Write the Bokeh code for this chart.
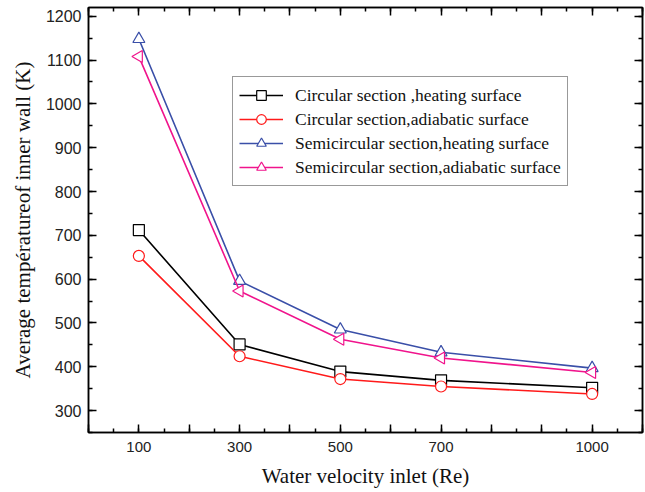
from bokeh.plotting import figure
from bokeh.models import (Range1d, LinearAxis, SingleIntervalTicker, Legend,
                          LegendItem)
from bokeh.embed import file_html
from bokeh.resources import INLINE

# Inlet Reynolds number and mean inner-wall temperature (K)
re_values = [100, 300, 500, 700, 1000]
circular_heating = [712, 451, 389, 369, 352]
circular_adiabatic = [653, 424, 372, 355, 338]
semicircular_heating = [1148, 596, 485, 433, 397]
semicircular_adiabatic = [1108, 573, 463, 420, 387]

series_labels = [
    "Circular section ,heating surface",
    "Circular section,adiabatic surface",
    "Semicircular section,heating surface",
    "Semicircular section,adiabatic surface",
]
x_tick_labels = ["100", "300", "500", "700", "1000"]

p = figure(width=645, height=492, output_backend="svg", toolbar_location=None,
           title=None,
           x_range=Range1d(0, 1100), y_range=Range1d(250, 1220),
           min_border_left=88, min_border_right=3, min_border_top=7,
           min_border_bottom=60)
p.background_fill_color = "white"
p.border_fill_color = "white"
p.grid.visible = False
p.outline_line_color = "black"
p.outline_line_width = 1.5

serif = "Liberation Serif"
sans = "Liberation Sans"

xt = SingleIntervalTicker(interval=100, num_minor_ticks=2)
yt = SingleIntervalTicker(interval=100, num_minor_ticks=2)

overrides = {v: "" for v in range(0, 1200, 100)}
for lab in x_tick_labels:
    overrides[int(lab)] = lab


def style(ax, labels=True):
    ax.axis_line_color = "black"
    ax.axis_line_width = 1.5
    ax.major_tick_in = 8
    ax.major_tick_out = 0
    ax.minor_tick_in = 4
    ax.minor_tick_out = 0
    ax.major_tick_line_width = 1.5
    ax.minor_tick_line_width = 1.5
    if not labels:
        # tick marks only on the top / right sides
        ax.major_label_text_font_size = "0px"
        ax.major_label_text_alpha = 0
        ax.major_label_standoff = 0


xa = p.xaxis[0]
xa.ticker = xt
xa.major_label_overrides = overrides
style(xa)
xa.major_label_text_font = sans
xa.major_label_text_font_size = "15px"
xa.major_label_text_color = "#222222"
xa.major_label_standoff = 9
xa.axis_label = "Water velocity inlet (Re)"
xa.axis_label_text_font = serif
xa.axis_label_text_font_style = "normal"
xa.axis_label_text_font_size = "21px"
xa.axis_label_text_color = "#111111"
xa.axis_label_standoff = 9

ya = p.yaxis[0]
ya.ticker = yt
style(ya)
ya.major_label_text_font = sans
ya.major_label_text_font_size = "16px"
ya.major_label_text_color = "#222222"
ya.major_label_standoff = 7
ya.axis_label = "Average températureof inner wall (K)"
ya.axis_label_text_font = serif
ya.axis_label_text_font_style = "normal"
ya.axis_label_text_font_size = "21px"
ya.axis_label_text_color = "#111111"
ya.axis_label_standoff = 8

top = LinearAxis(ticker=xt, major_label_overrides={v: "" for v in range(0, 1200, 100)})
style(top, labels=False)
p.add_layout(top, "above")
right = LinearAxis(ticker=yt, major_label_overrides={v: "" for v in range(200, 1300, 100)})
style(right, labels=False)
p.add_layout(right, "right")

colors = ["black", "#ff1a1a", "#3a4fa8", "#f0148c"]
markers = ["square", "circle", "triangle", "inverted_triangle"]
data = [circular_heating, circular_adiabatic, semicircular_heating,
        semicircular_adiabatic]

items = []
for lab, ys, col, mk in zip(series_labels, data, colors, markers):
    ln = p.line(re_values, ys, line_color=col, line_width=1.6)
    if mk == "inverted_triangle":
        # left-pointing triangle
        sc = p.scatter(re_values, ys, marker="triangle", angle=1.5708,
                       size=12, line_color=col, fill_color="white",
                       line_width=1.2)
    else:
        sc = p.scatter(re_values, ys, marker=mk, size=11 if mk != "triangle" else 12,
                       line_color=col, fill_color="white", line_width=1.2)
    items.append(LegendItem(label=lab, renderers=[ln, sc]))

legend = Legend(items=items, location=(144, 246))
legend.border_line_color = "#333333"
legend.border_line_width = 1
legend.background_fill_color = "white"
legend.background_fill_alpha = 1
legend.label_text_font = serif
legend.label_text_font_size = "17.5px"
legend.label_text_color = "#111111"
legend.glyph_width = 44
legend.glyph_height = 24
legend.label_height = 24
legend.spacing = 0
legend.padding = 6
legend.margin = 0
legend.label_standoff = 12
p.add_layout(legend, "center")

open("out.html", "w").write(file_html(p, INLINE))
